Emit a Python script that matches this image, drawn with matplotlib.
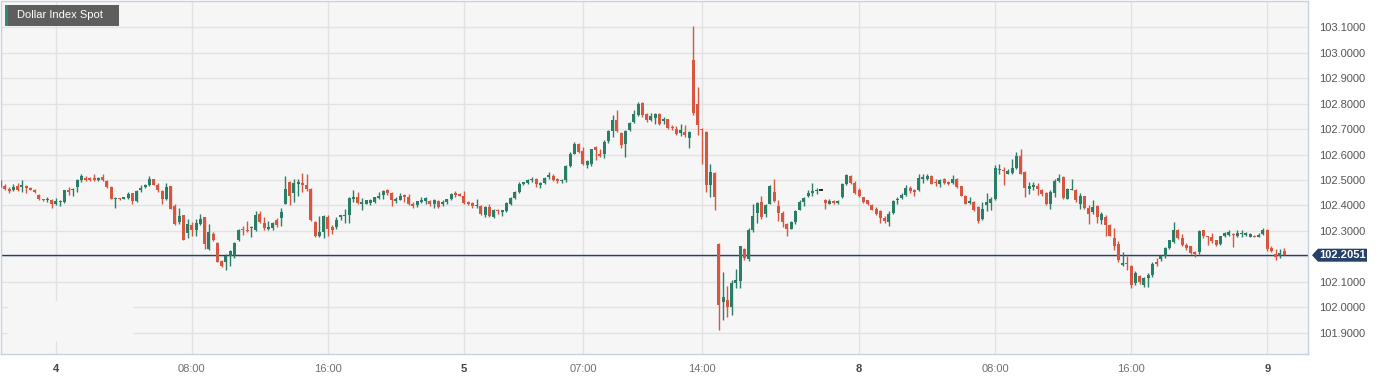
import numpy as np
import pandas as pd
import matplotlib
matplotlib.use("Agg")
import matplotlib.pyplot as plt
from matplotlib.patches import Polygon, Rectangle
from matplotlib.transforms import IdentityTransform

# =======================
# DATA (15 min candles, UTC)
# =======================
title = "Dollar Index Spot"

opens = [
    102.492, 102.476, 102.465, 102.459, 102.475, 102.472, 102.476, 102.468, 102.462, 102.442,
    102.424, 102.420, 102.423, 102.404, 102.412, 102.413, 102.459, 102.459, 102.472, 102.499,
    102.509, 102.509, 102.508, 102.499, 102.512, 102.495, 102.472, 102.424, 102.429, 102.427,
    102.430, 102.449, 102.416, 102.459, 102.472, 102.479, 102.502, 102.479, 102.456, 102.424,
    102.475, 102.397, 102.335, 102.361, 102.293, 102.322, 102.302, 102.328, 102.355, 102.230,
    102.289, 102.253, 102.184, 102.177, 102.203, 102.207, 102.263, 102.308, 102.304, 102.312,
    102.302, 102.368, 102.332, 102.308, 102.312, 102.344, 102.352, 102.407, 102.492, 102.449,
    102.483, 102.488, 102.481, 102.465, 102.335, 102.282, 102.295, 102.353, 102.315, 102.317,
    102.355, 102.357, 102.364, 102.427, 102.433, 102.407, 102.407, 102.409, 102.413, 102.429,
    102.442, 102.459, 102.449, 102.416, 102.423, 102.441, 102.433, 102.404, 102.400, 102.413,
    102.416, 102.416, 102.407, 102.416, 102.407, 102.413, 102.424, 102.449, 102.446, 102.436,
    102.413, 102.409, 102.398, 102.398, 102.361, 102.394, 102.355, 102.383, 102.374, 102.378,
    102.407, 102.430, 102.452, 102.483, 102.489, 102.499, 102.505, 102.479, 102.489, 102.512,
    102.516, 102.503, 102.495, 102.499, 102.554, 102.603, 102.640, 102.614, 102.560, 102.561,
    102.630, 102.601, 102.603, 102.652, 102.691, 102.734, 102.686, 102.643, 102.698, 102.728,
    102.754, 102.803, 102.758, 102.737, 102.745, 102.757, 102.732, 102.739, 102.708, 102.699,
    102.686, 102.688, 102.666, 102.971, 102.800, 102.699, 102.688, 102.479, 102.529, 102.250,
    102.020, 102.029, 102.003, 102.095, 102.105, 102.230, 102.190, 102.302, 102.372, 102.413,
    102.365, 102.407, 102.452, 102.398, 102.371, 102.326, 102.308, 102.335, 102.383, 102.413,
    102.437, 102.450, 102.456, 102.462, 102.423, 102.407, 102.416, 102.411, 102.433, 102.483,
    102.516, 102.489, 102.459, 102.433, 102.420, 102.403, 102.387, 102.378, 102.352, 102.335,
    102.370, 102.420, 102.429, 102.442, 102.468, 102.459, 102.459, 102.505, 102.503, 102.516,
    102.492, 102.483, 102.505, 102.492, 102.489, 102.505, 102.475, 102.439, 102.409, 102.413,
    102.394, 102.348, 102.400, 102.411, 102.427, 102.538, 102.541, 102.525, 102.527, 102.548,
    102.593, 102.531, 102.463, 102.472, 102.475, 102.462, 102.449, 102.407, 102.449, 102.496,
    102.512, 102.427, 102.462, 102.462, 102.404, 102.436, 102.391, 102.374, 102.398, 102.345,
    102.355, 102.322, 102.273, 102.250, 102.167, 102.175, 102.164, 102.095, 102.124, 102.088,
    102.116, 102.128, 102.177, 102.190, 102.200, 102.234, 102.256, 102.304, 102.273, 102.247,
    102.240, 102.217, 102.217, 102.302, 102.280, 102.278, 102.263, 102.250, 102.280, 102.286,
    102.289, 102.282, 102.289, 102.286, 102.278, 102.282, 102.278, 102.289, 102.304, 102.234,
    102.210, 102.200, 102.220,
]

highs = [
    102.499, 102.485, 102.472, 102.483, 102.488, 102.499, 102.479, 102.472, 102.465, 102.446,
    102.427, 102.433, 102.425, 102.430, 102.420, 102.462, 102.472, 102.469, 102.502, 102.522,
    102.516, 102.512, 102.525, 102.512, 102.522, 102.499, 102.475, 102.433, 102.430, 102.435,
    102.452, 102.450, 102.459, 102.481, 102.485, 102.515, 102.504, 102.488, 102.462, 102.488,
    102.476, 102.407, 102.390, 102.362, 102.348, 102.335, 102.348, 102.368, 102.356, 102.326,
    102.295, 102.257, 102.185, 102.210, 102.227, 102.257, 102.307, 102.319, 102.341, 102.318,
    102.378, 102.378, 102.355, 102.341, 102.335, 102.352, 102.391, 102.515, 102.496, 102.505,
    102.503, 102.529, 102.522, 102.468, 102.341, 102.357, 102.364, 102.361, 102.322, 102.355,
    102.364, 102.387, 102.433, 102.462, 102.451, 102.429, 102.423, 102.427, 102.435, 102.451,
    102.459, 102.464, 102.454, 102.435, 102.449, 102.446, 102.446, 102.413, 102.417, 102.433,
    102.433, 102.420, 102.424, 102.423, 102.420, 102.427, 102.449, 102.455, 102.449, 102.455,
    102.416, 102.413, 102.427, 102.400, 102.398, 102.404, 102.387, 102.387, 102.383, 102.413,
    102.435, 102.456, 102.492, 102.494, 102.503, 102.512, 102.509, 102.492, 102.512, 102.531,
    102.522, 102.508, 102.502, 102.557, 102.610, 102.649, 102.645, 102.630, 102.580, 102.623,
    102.634, 102.623, 102.656, 102.695, 102.754, 102.774, 102.688, 102.695, 102.728, 102.774,
    102.807, 102.807, 102.761, 102.761, 102.763, 102.761, 102.748, 102.741, 102.715, 102.712,
    102.719, 102.717, 102.691, 103.104, 102.863, 102.702, 102.691, 102.564, 102.530, 102.251,
    102.138, 102.083, 102.108, 102.151, 102.243, 102.234, 102.312, 102.407, 102.413, 102.439,
    102.404, 102.479, 102.503, 102.420, 102.377, 102.331, 102.341, 102.383, 102.420, 102.433,
    102.462, 102.488, 102.468, 102.464, 102.424, 102.427, 102.423, 102.420, 102.488, 102.522,
    102.518, 102.496, 102.468, 102.435, 102.423, 102.407, 102.394, 102.383, 102.357, 102.377,
    102.420, 102.433, 102.449, 102.479, 102.476, 102.464, 102.525, 102.525, 102.525, 102.518,
    102.502, 102.505, 102.509, 102.496, 102.518, 102.508, 102.478, 102.442, 102.433, 102.416,
    102.398, 102.413, 102.449, 102.433, 102.557, 102.564, 102.551, 102.545, 102.584, 102.610,
    102.623, 102.535, 102.492, 102.492, 102.488, 102.465, 102.452, 102.459, 102.502, 102.522,
    102.516, 102.468, 102.505, 102.465, 102.449, 102.439, 102.403, 102.420, 102.400, 102.374,
    102.361, 102.328, 102.311, 102.260, 102.217, 102.200, 102.168, 102.142, 102.129, 102.121,
    102.134, 102.177, 102.194, 102.207, 102.236, 102.266, 102.335, 102.308, 102.289, 102.253,
    102.243, 102.223, 102.304, 102.304, 102.282, 102.293, 102.266, 102.282, 102.295, 102.302,
    102.291, 102.302, 102.302, 102.295, 102.293, 102.285, 102.291, 102.310, 102.308, 102.243,
    102.230, 102.230, 102.234,
]

lows = [
    102.472, 102.462, 102.449, 102.456, 102.456, 102.452, 102.449, 102.459, 102.449, 102.420,
    102.416, 102.413, 102.391, 102.400, 102.397, 102.411, 102.443, 102.439, 102.452, 102.492,
    102.496, 102.496, 102.496, 102.496, 102.495, 102.469, 102.424, 102.391, 102.421, 102.424,
    102.427, 102.407, 102.413, 102.454, 102.469, 102.475, 102.479, 102.452, 102.407, 102.420,
    102.385, 102.322, 102.326, 102.263, 102.273, 102.282, 102.279, 102.324, 102.230, 102.227,
    102.260, 102.177, 102.158, 102.147, 102.164, 102.194, 102.260, 102.286, 102.295, 102.276,
    102.299, 102.331, 102.302, 102.302, 102.302, 102.315, 102.319, 102.404, 102.403, 102.413,
    102.439, 102.452, 102.456, 102.341, 102.276, 102.276, 102.273, 102.282, 102.289, 102.308,
    102.344, 102.331, 102.331, 102.413, 102.404, 102.384, 102.404, 102.400, 102.411, 102.424,
    102.427, 102.442, 102.398, 102.411, 102.420, 102.413, 102.402, 102.391, 102.395, 102.409,
    102.404, 102.398, 102.391, 102.391, 102.397, 102.404, 102.421, 102.433, 102.436, 102.407,
    102.400, 102.391, 102.391, 102.361, 102.355, 102.355, 102.352, 102.368, 102.357, 102.375,
    102.400, 102.427, 102.449, 102.479, 102.483, 102.494, 102.472, 102.469, 102.485, 102.502,
    102.496, 102.489, 102.490, 102.492, 102.551, 102.601, 102.607, 102.557, 102.547, 102.555,
    102.580, 102.590, 102.588, 102.647, 102.669, 102.688, 102.626, 102.590, 102.692, 102.724,
    102.750, 102.748, 102.728, 102.732, 102.721, 102.717, 102.719, 102.699, 102.695, 102.678,
    102.673, 102.669, 102.626, 102.754, 102.678, 102.564, 102.452, 102.433, 102.383, 101.911,
    101.951, 101.964, 101.972, 102.076, 102.076, 102.187, 102.181, 102.295, 102.332, 102.348,
    102.355, 102.404, 102.413, 102.341, 102.315, 102.282, 102.306, 102.328, 102.381, 102.397,
    102.433, 102.439, 102.446, 102.459, 102.387, 102.404, 102.404, 102.407, 102.430, 102.479,
    102.485, 102.446, 102.433, 102.409, 102.400, 102.381, 102.361, 102.331, 102.331, 102.319,
    102.368, 102.404, 102.427, 102.437, 102.450, 102.439, 102.456, 102.488, 102.499, 102.483,
    102.476, 102.472, 102.485, 102.479, 102.485, 102.469, 102.436, 102.404, 102.404, 102.378,
    102.331, 102.344, 102.378, 102.383, 102.423, 102.525, 102.479, 102.522, 102.525, 102.545,
    102.522, 102.433, 102.446, 102.459, 102.442, 102.439, 102.400, 102.387, 102.433, 102.492,
    102.427, 102.424, 102.459, 102.413, 102.387, 102.387, 102.328, 102.368, 102.331, 102.326,
    102.282, 102.279, 102.226, 102.180, 102.162, 102.147, 102.076, 102.090, 102.092, 102.082,
    102.082, 102.118, 102.164, 102.181, 102.194, 102.230, 102.253, 102.269, 102.243, 102.227,
    102.208, 102.197, 102.210, 102.273, 102.247, 102.253, 102.240, 102.246, 102.276, 102.282,
    102.236, 102.278, 102.278, 102.282, 102.276, 102.278, 102.276, 102.286, 102.223, 102.217,
    102.187, 102.194, 102.204,
]

closes = [
    102.479, 102.465, 102.456, 102.472, 102.462, 102.479, 102.468, 102.462, 102.452, 102.424,
    102.420, 102.425, 102.407, 102.416, 102.416, 102.459, 102.452, 102.465, 102.499, 102.515,
    102.501, 102.499, 102.499, 102.508, 102.501, 102.472, 102.427, 102.429, 102.424, 102.433,
    102.446, 102.416, 102.456, 102.469, 102.481, 102.502, 102.481, 102.459, 102.424, 102.472,
    102.387, 102.328, 102.357, 102.265, 102.328, 102.302, 102.331, 102.348, 102.250, 102.295,
    102.265, 102.180, 102.164, 102.203, 102.223, 102.254, 102.304, 102.302, 102.299, 102.317,
    102.364, 102.335, 102.311, 102.315, 102.331, 102.322, 102.374, 102.465, 102.439, 102.488,
    102.492, 102.479, 102.465, 102.344, 102.280, 102.295, 102.357, 102.308, 102.304, 102.345,
    102.361, 102.364, 102.430, 102.433, 102.410, 102.413, 102.420, 102.420, 102.433, 102.439,
    102.455, 102.449, 102.423, 102.424, 102.438, 102.433, 102.404, 102.398, 102.416, 102.420,
    102.429, 102.407, 102.420, 102.394, 102.413, 102.424, 102.446, 102.443, 102.439, 102.411,
    102.404, 102.397, 102.402, 102.365, 102.394, 102.357, 102.383, 102.377, 102.381, 102.409,
    102.430, 102.452, 102.483, 102.492, 102.499, 102.505, 102.483, 102.489, 102.508, 102.518,
    102.499, 102.495, 102.499, 102.554, 102.603, 102.640, 102.610, 102.564, 102.573, 102.620,
    102.619, 102.594, 102.649, 102.691, 102.734, 102.692, 102.636, 102.692, 102.724, 102.758,
    102.800, 102.754, 102.734, 102.750, 102.758, 102.721, 102.741, 102.704, 102.702, 102.682,
    102.698, 102.676, 102.688, 102.761, 102.715, 102.695, 102.479, 102.531, 102.433, 102.011,
    102.042, 102.003, 102.095, 102.108, 102.240, 102.194, 102.302, 102.358, 102.409, 102.355,
    102.400, 102.475, 102.417, 102.371, 102.337, 102.308, 102.335, 102.377, 102.413, 102.430,
    102.450, 102.456, 102.462, 102.462, 102.411, 102.416, 102.411, 102.416, 102.485, 102.518,
    102.489, 102.450, 102.437, 102.413, 102.404, 102.383, 102.368, 102.352, 102.339, 102.368,
    102.417, 102.427, 102.442, 102.469, 102.456, 102.452, 102.509, 102.512, 102.516, 102.485,
    102.488, 102.499, 102.489, 102.483, 102.503, 102.472, 102.439, 102.407, 102.416, 102.383,
    102.341, 102.387, 102.413, 102.424, 102.548, 102.545, 102.534, 102.534, 102.548, 102.593,
    102.525, 102.469, 102.476, 102.481, 102.463, 102.446, 102.404, 102.452, 102.496, 102.509,
    102.429, 102.465, 102.465, 102.420, 102.436, 102.391, 102.368, 102.394, 102.355, 102.365,
    102.322, 102.282, 102.243, 102.187, 102.175, 102.171, 102.090, 102.134, 102.099, 102.116,
    102.128, 102.171, 102.171, 102.200, 102.234, 102.263, 102.302, 102.273, 102.247, 102.233,
    102.213, 102.208, 102.299, 102.280, 102.276, 102.260, 102.247, 102.280, 102.291, 102.295,
    102.285, 102.291, 102.291, 102.291, 102.289, 102.278, 102.285, 102.304, 102.230, 102.223,
    102.197, 102.213, 102.2051,
]

# two trading sessions (weekend removed from the axis)
session1 = pd.date_range("2024-01-03 20:45", periods=194, freq="15min")
session2 = pd.date_range("2024-01-07 22:00", periods=109, freq="15min")
times = session1.append(session2)

tick_times = ["2024-01-04 00:00", "2024-01-04 08:00", "2024-01-04 16:00",
              "2024-01-05 00:00", "2024-01-05 07:00", "2024-01-05 14:00",
              "2024-01-08 00:00", "2024-01-08 08:00", "2024-01-08 16:00",
              "2024-01-09 00:00"]
tick_labels = ["4", "08:00", "16:00", "5", "07:00", "14:00", "8", "08:00", "16:00", "9"]

y_ticks = [101.9, 102.0, 102.1, 102.2, 102.3, 102.4, 102.5, 102.6, 102.7, 102.8, 102.9, 103.0, 103.1]

# =======================
# STYLE
# =======================
GREEN = "#2a7d66"
RED = "#d6563f"
NAVY = "#25406b"
BG = "#f6f6f6"
GRID = "#e2e2e2"
BORDER = "#c9d0e2"

plt.rcParams["font.family"] = ["Liberation Sans", "DejaVu Sans"]

W, H = 1385, 380
fig = plt.figure(figsize=(W / 100, H / 100), dpi=100)
fig.patch.set_facecolor("white")
ax = fig.add_axes([1 / W, 26 / H, 1307 / W, 353 / H])
ax.set_facecolor(BG)

o = np.array(opens)
h = np.array(highs)
l = np.array(lows)
c = np.array(closes)
x = np.arange(len(o))

up = c > o
down = c < o
flat = c == o

# wicks
ax.vlines(x[up], l[up], h[up], color=GREEN, lw=1.0, zorder=3)
ax.vlines(x[~up], l[~up], h[~up], color=RED, lw=1.0, zorder=3)
ax.vlines(x[flat], l[flat], h[flat], color="#222222", lw=1.0, zorder=3)

# bodies
body_w = 0.72
bottom = np.minimum(o, c)
height = np.maximum(np.abs(c - o), 0.0012)
ax.bar(x[up], height[up], bottom=bottom[up], width=body_w, color=GREEN, lw=0, zorder=4)
ax.bar(x[down], height[down], bottom=bottom[down], width=body_w, color=RED, lw=0, zorder=4)
ax.hlines(c[flat], x[flat] - 0.4, x[flat] + 0.6, color="#111111", lw=1.2, zorder=4)

ax.set_xlim(0.1, 307.6)
ax.set_ylim(101.8176, 103.202)

# grid + ticks
tick_pos = times.get_indexer(pd.to_datetime(tick_times))
ax.set_xticks(tick_pos)
ax.set_xticklabels(tick_labels)
for lab in ax.get_xticklabels():
    if ":" in lab.get_text():
        lab.set_color("#707070")
    else:
        lab.set_color("#444444")
        lab.set_fontweight("bold")
ax.set_yticks(y_ticks)
ax.set_yticklabels([f"{v:.4f}" for v in y_ticks])
ax.yaxis.tick_right()
ax.tick_params(axis="both", length=0, labelsize=8)
ax.tick_params(axis="y", pad=8, labelcolor="#555555")
ax.tick_params(axis="x", pad=7)
ax.grid(True, color=GRID, lw=1.0)
ax.set_axisbelow(True)

for s in ax.spines.values():
    s.set_color(BORDER)
    s.set_linewidth(1.0)

# faint patch over the grid in the lower left corner
ax.add_patch(Rectangle((7 / 1307, 13 / 353), 125 / 1307, 40 / 353, transform=ax.transAxes,
                       facecolor=BG, edgecolor="none", zorder=1))

# last price line
last = c[-1]
ax.axhline(last, color=NAVY, lw=1.0, zorder=2)

# last price tag
fig.canvas.draw()
yp = ax.transData.transform((0, last))[1]
xr = ax.transAxes.transform((1, 0))[0]
tag = [(xr + 4, yp), (xr + 10, yp + 6.5), (xr + 59, yp + 6.5),
       (xr + 59, yp - 6.5), (xr + 10, yp - 6.5)]
fig.add_artist(Polygon(tag, closed=True, transform=IdentityTransform(),
                       facecolor=NAVY, edgecolor="none"))
fig.text((xr + 35) / W, yp / H, f"{last:.4f}", color="white", fontsize=8,
         fontweight="bold", ha="center", va="center")

# title badge
fig.add_artist(Rectangle((5 / W, (H - 26) / H), 114 / W, 21 / H, transform=fig.transFigure,
                         facecolor="#5e5e5e", edgecolor="none"))
fig.add_artist(Rectangle((5 / W, (H - 26) / H), 2.5 / W, 21 / H, transform=fig.transFigure,
                         facecolor="#2e8b6e", edgecolor="none"))
fig.text(17 / W, (H - 15.5) / H, title, color="white", fontsize=8, ha="left", va="center")

fig.savefig("out.png", dpi=100)
